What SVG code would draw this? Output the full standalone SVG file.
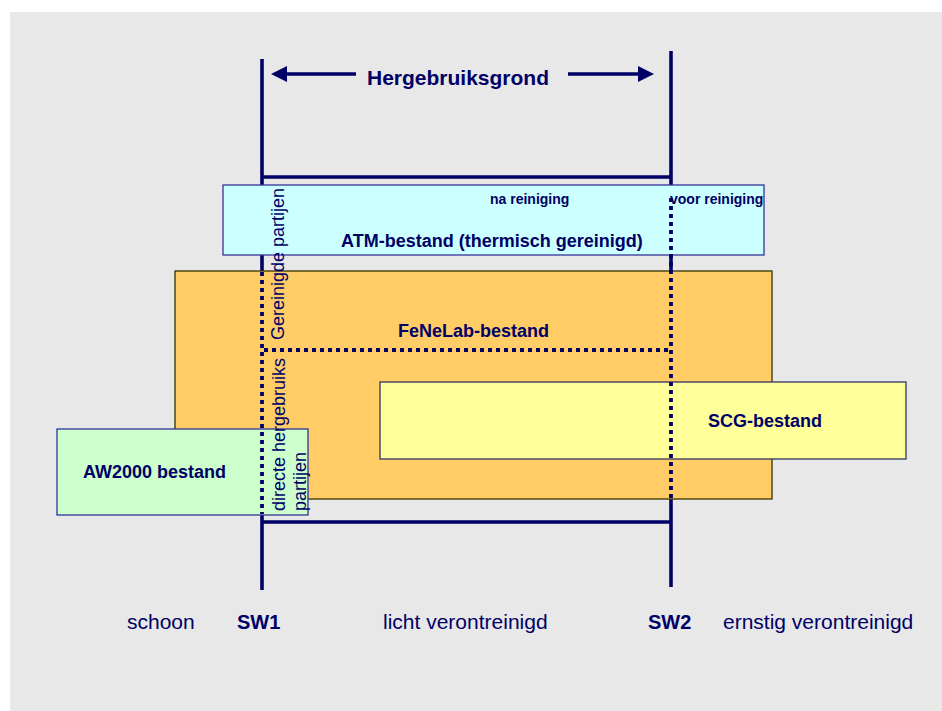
<svg xmlns="http://www.w3.org/2000/svg" width="942" height="711" viewBox="0 0 942 711">
  <defs>
    <marker id="head" viewBox="0 0 16 16" refX="2" refY="8" markerWidth="16" markerHeight="16" markerUnits="userSpaceOnUse" orient="auto">
      <path d="M0,0 L16,8 L0,16 Z" fill="#000066"/>
    </marker>
    <style>
      .bg { fill: #E8E8E8; }
      .axis { stroke: #000066; stroke-width: 3.6; fill: none; }
      .dots { stroke: #000066; stroke-width: 3.8; stroke-dasharray: 4 4; fill: none; }
      .arrow { stroke: #000066; stroke-width: 3.6; fill: none; marker-end: url(#head); }
      .box { stroke-width: 1.3; }
      text { font-family: "Liberation Sans", Arial, sans-serif; fill: #000066; }
      .b { font-weight: bold; }
      .t14 { font-size: 14px; }
      .t18 { font-size: 18px; }
      .t20 { font-size: 20px; }
      .t21 { font-size: 21px; }
    </style>
  </defs>

  <rect class="bg" x="10" y="12" width="932" height="699"/>

  <!-- boundary lines SW1 / SW2 and the bracket of the reuse range -->
  <g id="boundaries">
    <line class="axis" x1="262" y1="59" x2="262" y2="590"/>
    <line class="axis" x1="671" y1="51" x2="671" y2="587"/>
    <line class="axis" x1="262" y1="177" x2="671" y2="177"/>
    <line class="axis" x1="262" y1="522" x2="671" y2="522"/>
  </g>

  <g id="atm">
    <rect class="box" x="223" y="185" width="541" height="70" fill="#CCFFFF" stroke="#333399"/>
    <text class="b t14" x="490" y="204">na reiniging</text>
    <text class="b t14" x="670" y="204">voor reiniging</text>
    <text class="b t18" x="341" y="247">ATM-bestand (thermisch gereinigd)</text>
  </g>

  <g id="fenelab">
    <rect class="box" x="175" y="271" width="597" height="228" fill="#FFCC66" stroke="#333300"/>
    <text class="b t18" x="398" y="337">FeNeLab-bestand</text>
  </g>

  <g id="scg">
    <rect class="box" x="380" y="382" width="526" height="77" fill="#FFFF99" stroke="#333366"/>
    <text class="b t18" x="708" y="427">SCG-bestand</text>
  </g>

  <g id="aw2000">
    <rect class="box" x="57" y="429" width="251" height="86" fill="#CCFFCC" stroke="#333399"/>
    <text class="b t18" x="83" y="478">AW2000 bestand</text>
  </g>

  <!-- dotted partitions and the range arrows -->
  <g id="connectors">
    <line class="dots" x1="262" y1="272" x2="262" y2="514"/>
    <line class="dots" x1="671" y1="198" x2="671" y2="499"/>
    <line class="dots" x1="264" y1="350" x2="670" y2="350"/>
    <line class="arrow" x1="356" y1="74" x2="285" y2="74"/>
    <line class="arrow" x1="568" y1="74" x2="640" y2="74"/>
  </g>

  <g id="zone-labels">
    <text class="t18" transform="translate(284,340) rotate(-90)">Gereinigde partijen</text>
    <text class="t18" transform="translate(285,511) rotate(-90)">directe hergebruiks</text>
    <text class="t18" transform="translate(306,511) rotate(-90)">partijen</text>
  </g>

  <g id="title">
    <text class="b t21" x="367" y="85">Hergebruiksgrond</text>
  </g>

  <g id="axis-labels">
    <text class="t21" x="127" y="629">schoon</text>
    <text class="b t20" x="237" y="629">SW1</text>
    <text class="t21" x="383" y="629">licht verontreinigd</text>
    <text class="b t20" x="648" y="629">SW2</text>
    <text class="t21" x="723" y="629">ernstig verontreinigd</text>
  </g>
</svg>
